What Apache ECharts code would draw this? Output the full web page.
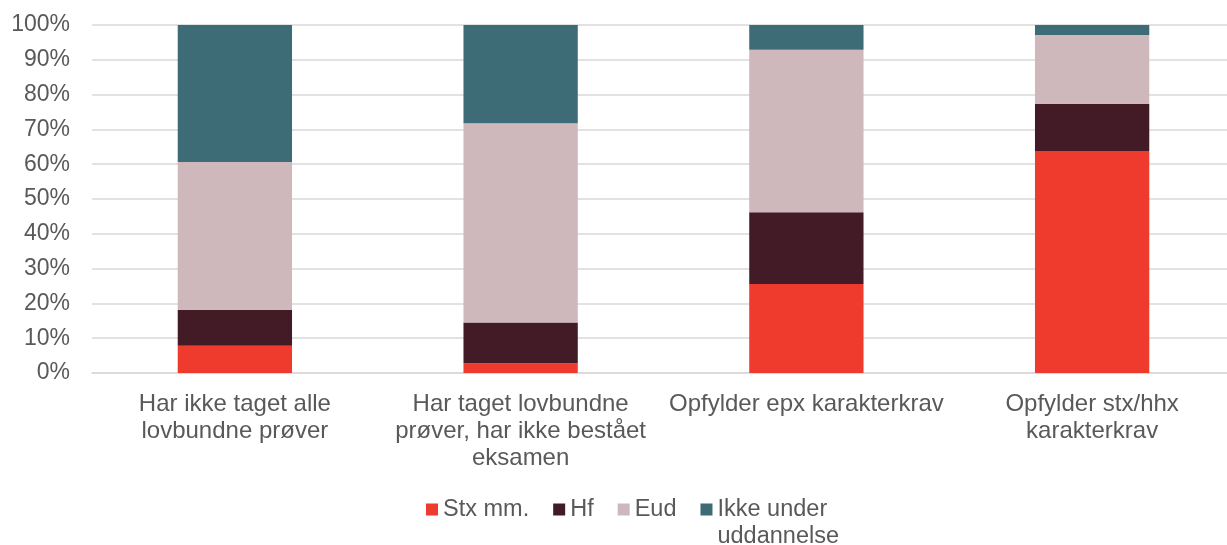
<!DOCTYPE html>
<html>
<head>
<meta charset="utf-8">
<script src="https://cdn.jsdelivr.net/npm/echarts@6/dist/echarts.min.js"></script>
<style>html,body{margin:0;padding:0;background:#fff}#c{width:1227px;height:545px}</style>
</head>
<body>
<div id="c"></div>
<script>
const categories = [
  'Har ikke taget alle\nlovbundne prøver',
  'Har taget lovbundne\nprøver, har ikke bestået\neksamen',
  'Opfylder epx karakterkrav',
  'Opfylder stx/hhx\nkarakterkrav'
];
const seriesNames = ['Stx mm.', 'Hf', 'Eud', 'Ikke under\nuddannelse'];
const stx = [7.8, 2.8, 25.6, 63.8];
const hf = [10.3, 11.7, 20.6, 13.6];
const eud = [42.5, 57.3, 46.7, 19.7];
const ikke = [39.4, 28.2, 7.1, 2.9];
const yTicks = [0, 10, 20, 30, 40, 50, 60, 70, 80, 90, 100];

const colors = ['#EE3B2D', '#431B26', '#CEB8BB', '#3D6B76'];
const values = [stx, hf, eud, ikke];
const font = 'Liberation Sans, Arial, sans-serif';

const chart = echarts.init(document.getElementById('c'));
chart.setOption({
  animation: false,
  color: colors,
  grid: { left: 92, top: 25, width: 1143, height: 348, containLabel: false, outerBoundsMode: 'none' },
  legend: {
    left: 421, top: 464,
    itemWidth: 12, itemHeight: 12, itemGap: 24,
    icon: 'rect',
    textStyle: { fontFamily: font, fontSize: 23.5, color: '#595959', lineHeight: 27 },
    formatter: name => name.indexOf('\n') >= 0 ? ' \n' + name : name,
    data: seriesNames
  },
  xAxis: {
    type: 'category',
    data: categories,
    axisTick: { show: false },
    axisLine: { show: true, lineStyle: { color: '#d9d9d9', width: 1.5 } },
    axisLabel: { fontFamily: font, fontSize: 24, color: '#595959', lineHeight: 27, margin: 18, interval: 0 }
  },
  yAxis: {
    type: 'value',
    min: 0, max: 100, interval: 10,
    axisLine: { show: false },
    axisTick: { show: false },
    splitLine: { lineStyle: { color: '#d9d9d9', width: 1.5 } },
    axisLabel: {
      fontFamily: font, fontSize: 23, color: '#595959', margin: 22,
      formatter: v => yTicks.includes(v) ? v + '%' : ''
    }
  },
  series: seriesNames.map((n, i) => ({
    name: n,
    type: 'bar',
    stack: 'total',
    barWidth: '40%',
    data: values[i],
    itemStyle: { color: colors[i] }
  }))
});
</script>
</body>
</html>
